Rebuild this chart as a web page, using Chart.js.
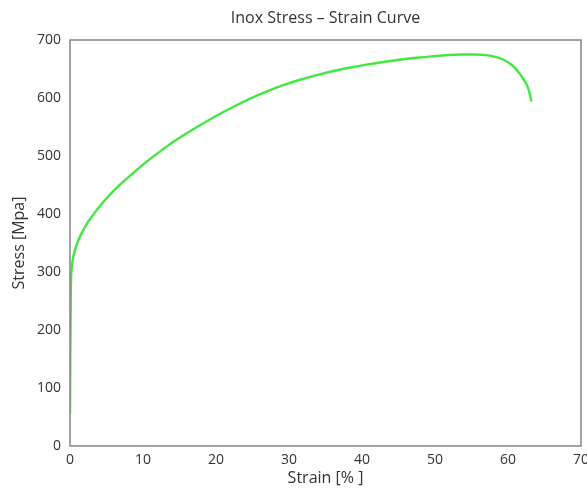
<!DOCTYPE html>
<html>
<head>
<meta charset="utf-8">
<title>Inox Stress – Strain Curve</title>
<script src="https://cdn.jsdelivr.net/npm/chart.js@4/dist/chart.umd.min.js"></script>
<style>
  html, body { margin: 0; padding: 0; background: #ffffff; }
  #wrap { width: 587px; height: 488px; }
</style>
</head>
<body>
<div id="wrap"><canvas id="chart" width="587" height="488"></canvas></div>
<script>
// Tensile test of a stainless (inox) specimen
const strainPct = [0, 0.05, 0.1, 0.15, 0.23, 0.4, 0.68, 1.0, 1.6, 2.2, 2.96, 3.8, 4.8, 5.9, 7.1, 8.4, 9.8, 11.3, 13, 15.2, 17.8, 20, 22.4, 24.6, 26.9, 29.2, 31.5, 33.8, 36.1, 38.4, 40.6, 42.9, 45.2, 47.5, 49.5, 51.5, 53.5, 55.5, 57, 58.3, 59.4, 60.3, 61, 61.6, 62.1, 62.6, 63.0, 63.2];
const stressMpa = [55, 160, 250, 290, 306, 323, 338, 350, 367, 381, 395, 409, 424, 439, 453.5, 468, 483, 498, 514, 533, 553, 569, 585, 598.5, 611, 622, 631.5, 639.5, 646.5, 652.5, 657.5, 662, 666, 669.3, 671.8, 673.8, 675, 675, 674, 671, 666, 659, 651, 642, 633, 622, 607, 594];

const xTicks = [0, 10, 20, 30, 40, 50, 60, 70];
const yTicks = [0, 100, 200, 300, 400, 500, 600, 700];

const titleText = 'Inox Stress \u2013 Strain Curve';
const xTitle = 'Strain [% ]';
const yTitle = 'Stress [Mpa]';

const FONT = '"Open Sans", "Liberation Sans", sans-serif';
const TEXT = '#333333';

const points = strainPct.map((s, i) => ({ x: s, y: stressMpa[i] }));

// Frame around the plot area and the title centred above it
const framePlugin = {
  id: 'frame',
  afterDraw(chart) {
    const { ctx, chartArea: a } = chart;
    ctx.save();
    ctx.strokeStyle = '#8c8c8c';
    ctx.lineWidth = 1.6;
    ctx.strokeRect(a.left, a.top, a.right - a.left, a.bottom - a.top);
    ctx.fillStyle = TEXT;
    ctx.font = '16px ' + FONT;
    ctx.textAlign = 'center';
    ctx.textBaseline = 'middle';
    ctx.fillText(titleText, (a.left + a.right) / 2, 18);
    ctx.restore();
  }
};

new Chart(document.getElementById('chart'), {
  type: 'line',
  data: {
    datasets: [{
      data: points,
      borderColor: 'rgb(64, 232, 64)',
      borderWidth: 2.4,
      pointRadius: 0,
      fill: false,
      cubicInterpolationMode: 'monotone'
    }]
  },
  options: {
    responsive: false,
    animation: false,
    layout: { padding: { top: 40, right: 6, left: 0, bottom: 0 } },
    plugins: { legend: { display: false }, tooltip: { enabled: false }, title: { display: false } },
    scales: {
      x: {
        type: 'linear',
        min: 0, max: 70,
        afterBuildTicks(scale) { scale.ticks = xTicks.map(v => ({ value: v })); },
        afterFit(scale) { scale.height = 42; scale.paddingRight = 0; scale.paddingLeft = 0; },
        grid: { display: false, drawTicks: false },
        border: { display: false },
        ticks: { color: TEXT, font: { family: FONT, size: 14 }, padding: 6, maxRotation: 0 },
        title: { display: true, text: xTitle, color: TEXT, font: { family: FONT, size: 16 }, padding: { top: -6, bottom: 0 } }
      },
      y: {
        min: 0, max: 700,
        afterBuildTicks(scale) { scale.ticks = yTicks.map(v => ({ value: v })); },
        afterFit(scale) { scale.width = 70; },
        grid: { display: false, drawTicks: false },
        border: { display: false },
        ticks: { color: TEXT, font: { family: FONT, size: 14 }, padding: 9 },
        title: { display: true, text: yTitle, color: TEXT, font: { family: FONT, size: 16 }, padding: { top: 10, bottom: 0 } }
      }
    }
  },
  plugins: [framePlugin]
});
</script>
</body>
</html>
